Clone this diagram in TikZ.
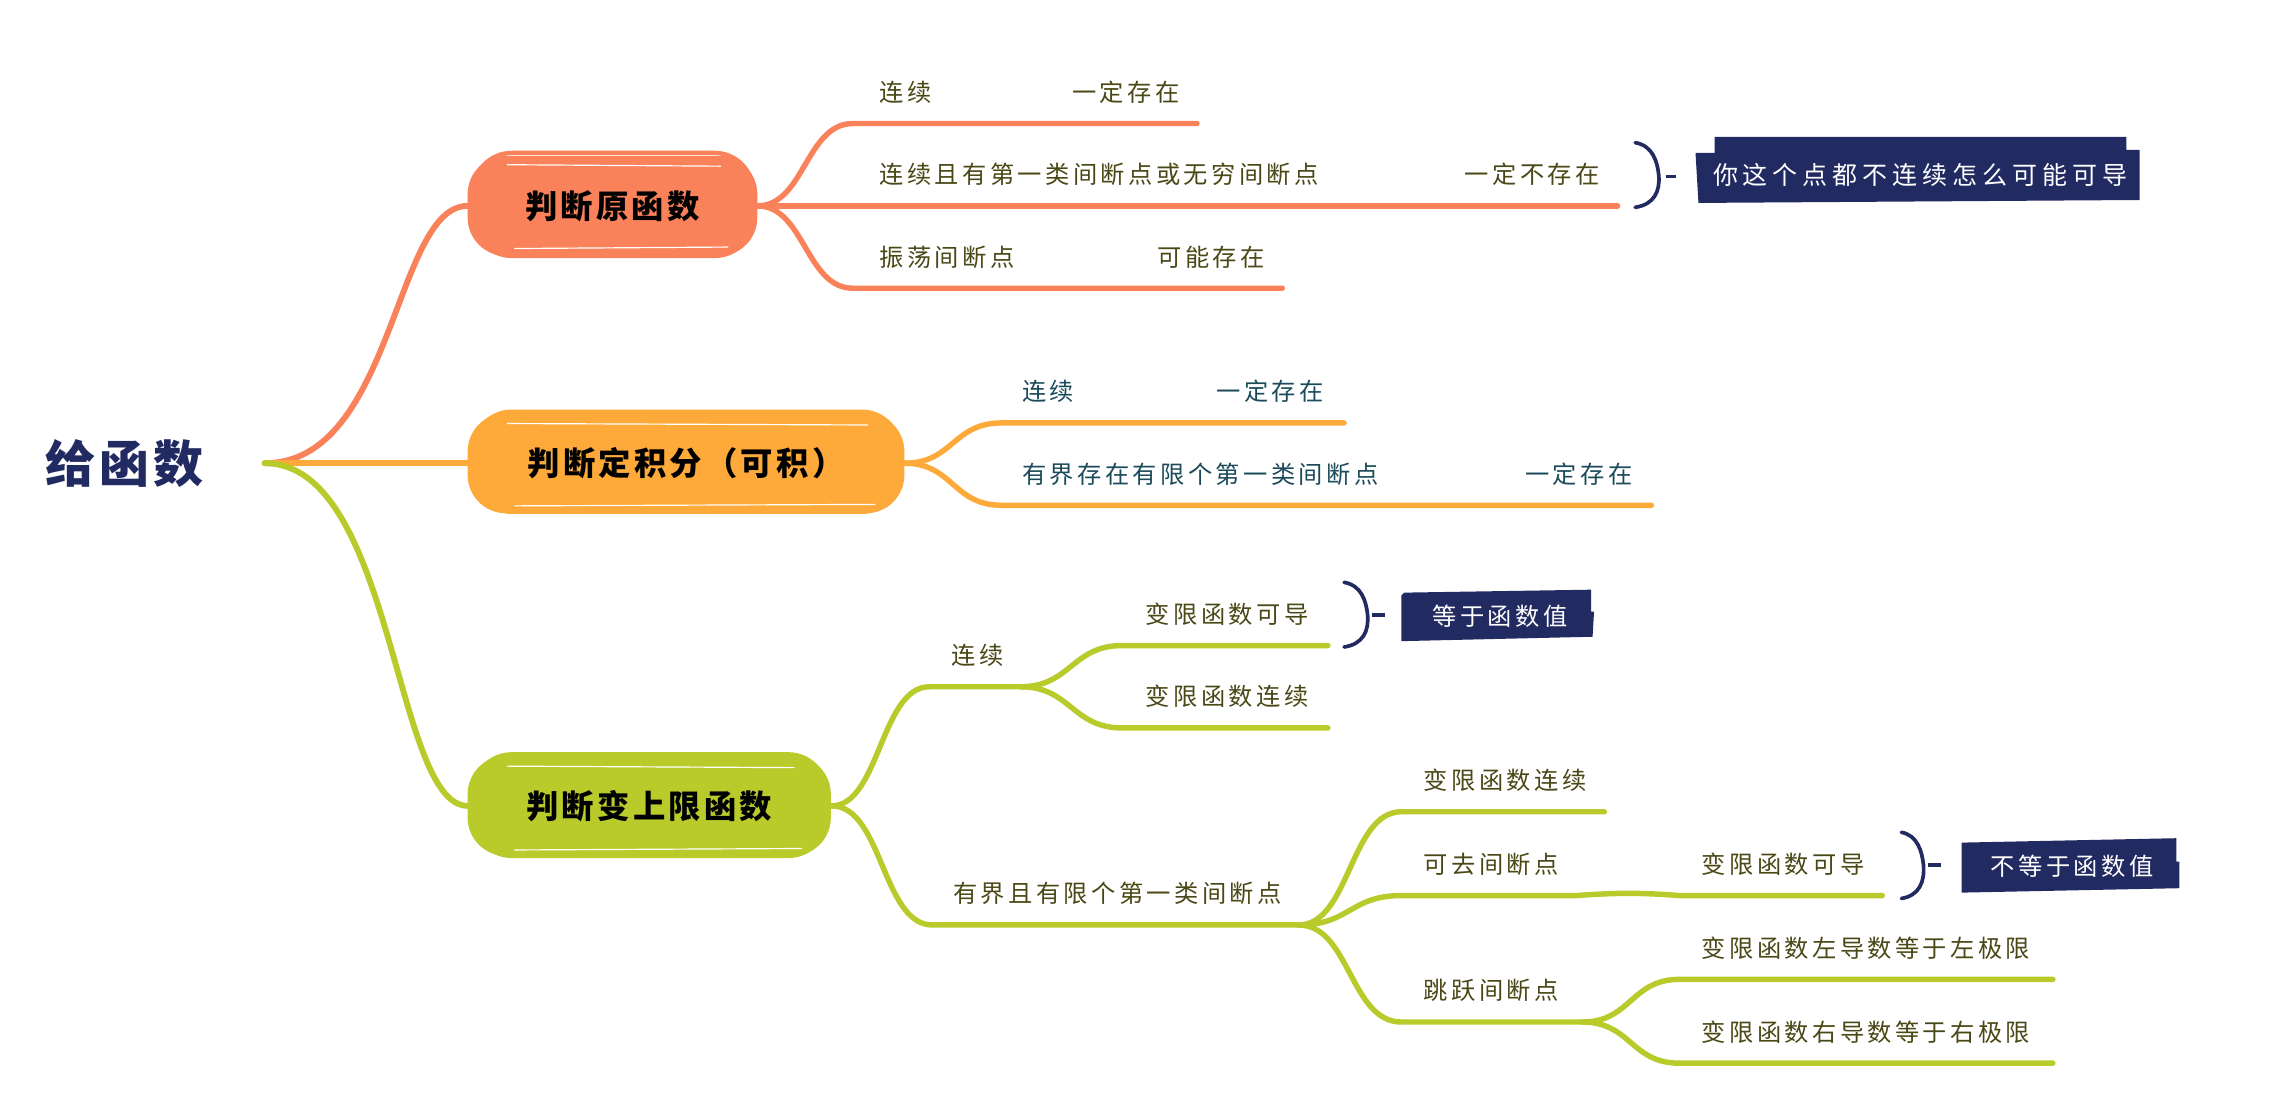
\documentclass[tikz,border=0pt]{standalone}
\usepackage{fontspec}
\setmainfont{Noto Sans CJK SC}
\newfontfamily\labfont{Noto Sans CJK SC}[LetterSpace=14]
\newfontfamily\boxfont{Noto Sans CJK SC}[LetterSpace=10]
\newfontfamily\rootfont{Noto Sans CJK SC}[LetterSpace=8]
\newfontfamily\callfont{Noto Sans CJK SC}[LetterSpace=20]
\definecolor{cone}{HTML}{F9825A}
\definecolor{ctwo}{HTML}{FDAA3A}
\definecolor{cthree}{HTML}{B8CB2B}
\definecolor{navy}{HTML}{222A62}
\definecolor{olive}{HTML}{4A4816}
\definecolor{tealx}{HTML}{1B4B5A}
\tikzset{
  lab/.style={anchor=base west, inner sep=0pt, font={\labfont\fontsize{16.5pt}{18pt}\selectfont}},
  labo/.style={lab, text=olive},
  labt/.style={lab, text=tealx},
  boxnode/.style={inner sep=0pt, rounded corners=26pt, text=black,
     font={\boxfont\bfseries\fontsize{22pt}{24pt}\selectfont}},
  branch/.style={line width=4pt, line cap=round},
  sub/.style={line width=3.7pt, line cap=round, line join=round},
  calltext/.style={inner sep=0pt, text=white, font={\labfont\fontsize{16.5pt}{18pt}\selectfont}},
  brk/.style={navy, line width=2.5pt, line cap=round},
  streak/.style={white, line width=0.8pt, line cap=round},
  boxedge/.style={line width=3pt, rounded corners=26pt},
}
\begin{document}
\begin{tikzpicture}[x=1pt,y=-1pt]
\useasboundingbox (0,0) rectangle (1560,761);
\fill[white] (0,0) rectangle (1560,761);

% root
\node[inner sep=0pt, text=navy, font={\rootfont\bfseries\fontsize{34pt}{36pt}\selectfont}] (root) at (85,315) {给函数};
\coordinate (R) at (180,315);

% level-1 box anchors
\path (416.5,140) coordinate (b1c);
\path (466.5,315) coordinate (b2c);
\path (441.5,548) coordinate (b3c);
\coordinate (b1w) at (318,140); \coordinate (b1e) at (515,140);
\coordinate (b2w) at (318,315); \coordinate (b2e) at (615,315);
\coordinate (b3w) at (318,548); \coordinate (b3e) at (565.5,548);

% root connectors
\draw[cone, branch] (R) .. controls (268,315) and (268,140) .. (b1w);
\draw[ctwo, branch] (R) -- (b2w);
\draw[cthree, branch] (R) .. controls (268,315) and (268,548) .. (b3w);

% ---------- box 1 children ----------
\coordinate (c11s) at (580,84);  \coordinate (c11e) at (814,84);
\coordinate (c12s) at (580,140); \coordinate (c12e) at (1100,140);
\coordinate (c13s) at (580,196); \coordinate (c13e) at (872,196);
\draw[cone, sub] (b1e) .. controls (547,140) and (548,84) .. (c11s) -- (c11e);
\draw[cone, sub] (b1e) -- (c12s) -- (c12e);
\draw[cone, sub] (b1e) .. controls (547,140) and (548,196) .. (c13s) -- (c13e);
\node[labo] (t11) at (598,69) {连续};
\node[labo] (t11b) at (729,69) {一定存在};
\node[labo] (t12) at (598,125) {连续且有第一类间断点或无穷间断点};
\node[labo] (t12b) at (996,125) {一定不存在};
\node[labo] (t13) at (598,181) {振荡间断点};
\node[labo] (t13b) at (787,181) {可能存在};

% ---------- box 2 children ----------
\coordinate (c21s) at (681,287.6); \coordinate (c21e) at (914,287.6);
\coordinate (c22s) at (681,343.6); \coordinate (c22e) at (1123,343.6);
\draw[ctwo, sub] (b2e) .. controls (648,315) and (648,287.6) .. (c21s) -- (c21e);
\draw[ctwo, sub] (b2e) .. controls (648,315) and (648,343.6) .. (c22s) -- (c22e);
\node[labt] (t21) at (695,272.6) {连续};
\node[labt] (t21b) at (827,272.6) {一定存在};
\node[labt] (t22) at (695,328.6) {有界存在有限个第一类间断点};
\node[labt] (t22b) at (1037,328.6) {一定存在};

% ---------- box 3 children ----------
\coordinate (c31s) at (632,467); \coordinate (c31e) at (694,467);
\coordinate (c311s) at (763,439); \coordinate (c311e) at (903,439);
\coordinate (c312s) at (763,495); \coordinate (c312e) at (903,495);
\coordinate (c32s) at (634,629); \coordinate (c32e) at (883,629);
\coordinate (c321s) at (953,552); \coordinate (c321e) at (1091,552);
\coordinate (c322s) at (953,609); \coordinate (c322e) at (1072,609);
\coordinate (c322bs) at (1142,609); \coordinate (c322be) at (1280,609);
\coordinate (c323s) at (953,695); \coordinate (c323e) at (1076,695);
\coordinate (c3231s) at (1142,666); \coordinate (c3231e) at (1396,666);
\coordinate (c3232s) at (1142,723); \coordinate (c3232e) at (1396,723);

\draw[cthree, sub] (b3e) .. controls (598,548) and (599,467) .. (c31s) -- (c31e);
\draw[cthree, sub] (c31e) .. controls (728,467) and (729,439) .. (c311s) -- (c311e);
\draw[cthree, sub] (c31e) .. controls (728,467) and (729,495) .. (c312s) -- (c312e);
\draw[cthree, sub] (b3e) .. controls (600,548) and (600,629) .. (c32s) -- (c32e);
\draw[cthree, sub] (c32e) .. controls (918,629) and (918,552) .. (c321s) -- (c321e);
\draw[cthree, sub] (c32e) .. controls (918,629) and (918,609) .. (c322s) -- (c322e)
   .. controls (1100,607) and (1115,607) .. (c322bs) -- (c322be);
\draw[cthree, sub] (c32e) .. controls (918,629) and (918,695) .. (c323s) -- (c323e);
\draw[cthree, sub] (c323e) .. controls (1109,695) and (1109,666) .. (c3231s) -- (c3231e);
\draw[cthree, sub] (c323e) .. controls (1109,695) and (1109,723) .. (c3232s) -- (c3232e);

\node[labo] (t31) at (647,452) {连续};
\node[labo] (t311) at (779,424) {变限函数可导};
\node[labo] (t312) at (779,480) {变限函数连续};
\node[labo] (t32) at (648,614) {有界且有限个第一类间断点};
\node[labo] (t321) at (968,537) {变限函数连续};
\node[labo] (t322) at (968,594) {可去间断点};
\node[labo] (t322b) at (1157,594) {变限函数可导};
\node[labo] (t323) at (968,680) {跳跃间断点};
\node[labo] (t3231) at (1157,651) {变限函数左导数等于左极限};
\node[labo] (t3232) at (1157,708) {变限函数右导数等于右极限};

% ---------- level-1 boxes ----------
\draw[cone, boxedge] (322,104) rectangle (512,174);
\node[boxnode, fill=cone, minimum width=197pt, minimum height=68pt] (b1) at (b1c) {判断原函数};
\draw[streak] (345,112) -- (490,113);
\draw[streak] (350,169) -- (495,168);

\draw[ctwo, boxedge] (322,280) rectangle (612,348);
\node[boxnode, fill=ctwo, minimum width=297pt, minimum height=68pt] (b2) at (b2c) {判断定积分（可积）};
\draw[streak] (345,288) -- (590,289);
\draw[streak] (350,344) -- (595,343);

\draw[ctwo, line width=1pt] (605,335) -- (603,345);
\draw[cthree, boxedge] (322,513) rectangle (562,582);
\node[boxnode, fill=cthree, minimum width=247pt, minimum height=68pt] (b3) at (b3c) {判断变上限函数};
\draw[streak] (345,521) -- (540,522);
\draw[streak] (350,578) -- (545,577);

% ---------- callouts ----------
\fill[navy] (1153,104) -- (1166,104) -- (1166,93) -- (1446,93) -- (1446,102) -- (1455,102)
   -- (1455,136) -- (1155,138) -- cycle;
\node[calltext, font={\callfont\fontsize{17pt}{18pt}\selectfont}] (k1) at (1306,119) {你这个点都不连续怎么可能可导};
\draw[brk] (1112,97) .. controls (1124,99) and (1127,110) .. (1128,119)
   .. controls (1129,130) and (1125,139) .. (1112,141);
\draw[navy, line width=2.5pt] (1133,120) -- (1140,120);

\fill[navy] (953,405) -- (955,403) -- (1082,401) -- (1082,416) -- (1084,416) -- (1083,433) -- (953,436) -- cycle;
\node[calltext] (k2) at (1020,419) {等于函数值};
\draw[brk] (914,396) .. controls (926,398) and (929,409) .. (930,418)
   .. controls (931,429) and (927,438) .. (914,440);
\draw[navy, line width=2.5pt] (933,418) -- (942,418);

\fill[navy] (1334,573) -- (1480,570) -- (1480,586) -- (1482,586) -- (1482,604) -- (1334,607) -- cycle;
\node[calltext] (k3) at (1409,589) {不等于函数值};
\draw[brk] (1293,566) .. controls (1304,568) and (1307,579) .. (1308,588)
   .. controls (1309,600) and (1305,609) .. (1293,611);
\draw[navy, line width=2.5pt] (1311,588) -- (1320,588);
\end{tikzpicture}
\end{document}
